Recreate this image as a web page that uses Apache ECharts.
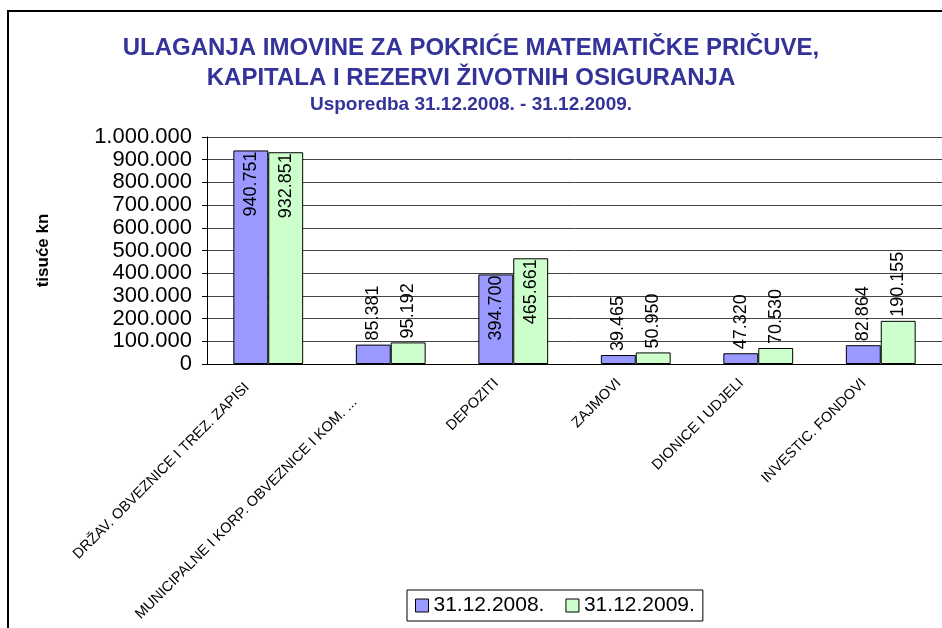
<!DOCTYPE html>
<html>
<head>
<meta charset="utf-8">
<script src="https://cdn.jsdelivr.net/npm/echarts@6/dist/echarts.min.js"></script>
<style>
  html, body { margin: 0; padding: 0; background: #fff; }
  #chart { width: 942px; height: 628px; }
</style>
</head>
<body>
<div id="chart"></div>
<script>
var categories = [
    'DRŽAV. OBVEZNICE I TREZ. ZAPISI',
    'MUNICIPALNE I KORP. OBVEZNICE I KOM. ...',
    'DEPOZITI',
    'ZAJMOVI',
    'DIONICE I UDJELI',
    'INVESTIC. FONDOVI'
];
var seriesNames = ['31.12.2008.', '31.12.2009.'];
var values2008 = [940751, 85381, 394700, 39465, 47320, 82864];
var values2009 = [932851, 95192, 465661, 50950, 70530, 190155];

// 1.000.000 style
function fmt(v) {
    return String(Math.round(v)).replace(/\B(?=(\d{3})+(?!\d))/g, '.');
}

function barData(vals) {
    return vals.map(function (v) {
        // tall bars get the label inside, like the excel original
        if (v > 300000) {
            return { value: v, label: { position: 'insideTop', align: 'right', distance: 1 } };
        }
        return { value: v };
    });
}

// excel places the slanted labels a bit left of the tick centre
function catData() {
    return categories.map(function (c, i) {
        var pad = [11, 24, 0, 0];
        if (i === 0) pad = [0, 30, 0, 0];
        if (i === 1) pad = [0, 51, 5, 0];
        return { value: c, textStyle: { padding: pad } };
    });
}

var chart = echarts.init(document.getElementById('chart'));
var font = 'Liberation Sans, Arial, sans-serif';

var option = {
    animation: false,
    title: [{
        text: 'ULAGANJA IMOVINE ZA POKRIĆE MATEMATIČKE PRIČUVE,\nKAPITALA I REZERVI ŽIVOTNIH OSIGURANJA',
        left: 'center',
        top: 28,
        textStyle: {
            color: '#333399',
            fontFamily: font,
            fontSize: 24,
            fontWeight: 'bold',
            lineHeight: 30
        }
    }, {
        text: 'Usporedba 31.12.2008. - 31.12.2009.',
        left: 'center',
        top: 90,
        textStyle: {
            color: '#333399',
            fontFamily: font,
            fontSize: 19,
            fontWeight: 'bold'
        }
    }],
    graphic: [{
        type: 'rect',
        shape: { x: 8, y: 11, width: 1000, height: 1000 },
        style: { fill: 'none', stroke: '#000', lineWidth: 2 },
        silent: true
    }],
    legend: {
        data: seriesNames,
        left: 407,
        top: 590,
        itemWidth: 13,
        itemHeight: 13,
        itemGap: 21,
        padding: [5, 8, 5, 8],
        borderColor: '#000',
        borderWidth: 1,
        icon: 'rect',
        itemStyle: { borderColor: '#000', borderWidth: 1 },
        textStyle: { color: '#000', fontFamily: font, fontSize: 21 }
    },
    grid: { left: 207, right: 0, top: 137, bottom: 264 },
    xAxis: {
        type: 'category',
        data: catData(),
        axisLine: { lineStyle: { color: '#000', width: 1 } },
        axisTick: { lineStyle: { color: '#000' }, length: 5 },
        axisLabel: {
            rotate: 45,
            interval: 0,
            margin: 0,
            color: '#000',
            fontFamily: font,
            fontSize: 14.5
        }
    },
    yAxis: {
        type: 'value',
        min: 0,
        max: 1000000,
        interval: 100000,
        name: 'tisuće kn',
        nameLocation: 'middle',
        nameGap: 155,
        nameTextStyle: { color: '#000', fontFamily: font, fontSize: 17, fontWeight: 'bold' },
        axisLine: { show: true, lineStyle: { color: '#000' } },
        axisTick: { show: true, length: 5, lineStyle: { color: '#000' } },
        splitLine: { lineStyle: { color: '#444', width: 1 } },
        axisLabel: {
            margin: 15,
            color: '#000',
            fontFamily: font,
            fontSize: 22,
            formatter: fmt
        }
    },
    series: [{
        name: seriesNames[0],
        type: 'bar',
        data: barData(values2008),
        barWidth: '28.5%',
        barGap: '0%',
        itemStyle: { color: '#9999FF', borderColor: '#000', borderWidth: 1 },
        label: {
            show: true,
            position: 'top',
            rotate: 90,
            align: 'left',
            verticalAlign: 'middle',
            distance: 4,
            color: '#000',
            fontFamily: font,
            fontSize: 18,
            formatter: function (p) { return fmt(p.value); }
        }
    }, {
        name: seriesNames[1],
        type: 'bar',
        data: barData(values2009),
        barWidth: '28.5%',
        barGap: '0%',
        itemStyle: { color: '#CCFFCC', borderColor: '#000', borderWidth: 1 },
        label: {
            show: true,
            position: 'top',
            rotate: 90,
            align: 'left',
            verticalAlign: 'middle',
            distance: 4,
            color: '#000',
            fontFamily: font,
            fontSize: 18,
            formatter: function (p) { return fmt(p.value); }
        }
    }]
};
chart.setOption(option);
</script>
</body>
</html>
